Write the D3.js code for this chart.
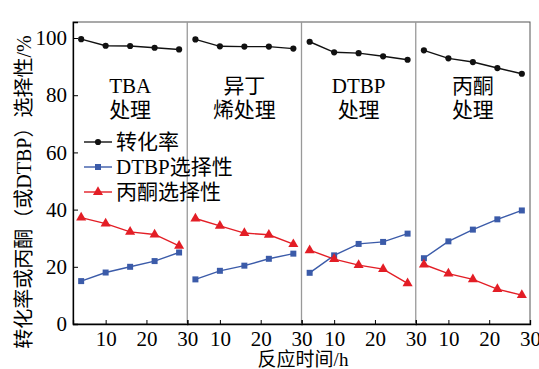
<!DOCTYPE html>
<html>
<head>
<meta charset="utf-8">
<script src="https://cdn.jsdelivr.net/npm/d3@7"></script>
<style>
  body { margin: 0; background: #fff; }
  svg { display: block; font-family: "Liberation Serif", "Noto Sans CJK SC", serif; }
</style>
</head>
<body>
<div id="chart"></div>
<script>
const panels = ['TBA|处理', '异丁|烯处理', 'DTBP|处理', '丙酮|处理']
const times = [4, 10, 16, 22, 28]
const conversion = [
  [99.6, 97.3, 97.2, 96.6, 96.0],
  [99.5, 97.1, 97.0, 97.0, 96.3],
  [98.7, 95.0, 94.7, 93.6, 92.4],
  [95.7, 92.9, 91.6, 89.5, 87.5],
]
const dtbpSel = [
  [15.0, 18.0, 20.0, 22.0, 25.0],
  [15.6, 18.6, 20.4, 22.8, 24.6],
  [17.9, 24.0, 28.0, 28.7, 31.6],
  [23.0, 28.9, 33.0, 36.6, 39.7],
]
const acetoneSel = [
  [37.2, 35.1, 32.2, 31.3, 27.3],
  [36.9, 34.3, 31.8, 31.2, 27.9],
  [25.8, 22.7, 20.6, 19.2, 14.2],
  [20.8, 17.6, 15.6, 12.2, 10.1],
]
const yTicks = [0, 20, 40, 60, 80, 100]
const xTicks = [10, 20, 30]
const seriesNames = ['转化率', 'DTBP选择性', '丙酮选择性']

const W = 539, H = 369
const plot = { left: 73, right: 530, top: 22, bottom: 324 }
const colors = ['#111', '#3b5ba9', '#e31e26']

const svg = d3.select('#chart').append('svg').attr('width', W).attr('height', H)

const y = d3.scaleLinear().domain([0, 105.6]).range([plot.bottom, plot.top])
const panelScale = d3.scaleBand().domain(d3.range(panels.length))
  .range([plot.left, plot.right]).paddingInner(0).paddingOuter(0)

// frame
svg.append('rect')
  .attr('x', plot.left).attr('y', plot.top)
  .attr('width', plot.right - plot.left).attr('height', plot.bottom - plot.top)
  .attr('fill', 'none').attr('stroke', '#555').attr('stroke-width', 1)

// y axis
const yAxis = d3.axisLeft(y).tickValues(yTicks).tickSize(-5).tickPadding(6)
const gy = svg.append('g').attr('transform', `translate(${plot.left},0)`).call(yAxis)
gy.select('.domain').attr('stroke', '#000').attr('stroke-width', 1.3)
gy.selectAll('.tick line').attr('stroke', '#000')
gy.selectAll('.tick text').attr('font-size', 21).attr('fill', '#000')
  .attr('font-family', '"Liberation Serif", serif')

const symbols = [d3.symbolCircle, d3.symbolSquare, d3.symbolTriangle]
const symSizes = [30, 36, 44]

panels.forEach((label, i) => {
  const x0 = panelScale(i), x1 = x0 + panelScale.bandwidth()
  const x = d3.scaleLinear().domain([2, 30]).range([x0, x1])

  // divider
  if (i > 0) {
    svg.append('line').attr('x1', x0).attr('x2', x0)
      .attr('y1', plot.top).attr('y2', plot.bottom)
      .attr('stroke', '#999').attr('stroke-width', 1.3)
  }

  const xAxis = d3.axisBottom(x).tickValues(xTicks).tickSize(-4).tickPadding(7)
    .tickFormat(d3.format('d'))
  const gx = svg.append('g').attr('transform', `translate(0,${plot.bottom})`).call(xAxis)
  gx.select('.domain').attr('stroke', '#000').attr('stroke-width', 1.3)
  gx.selectAll('.tick line').attr('stroke', '#000')
  gx.selectAll('.tick').filter(d => d === 30).select('line').remove()
  gx.selectAll('.tick text').attr('font-size', 21).attr('fill', '#000')
    .attr('font-family', '"Liberation Serif", serif')

  const sets = [conversion[i], dtbpSel[i], acetoneSel[i]]
  sets.forEach((vals, s) => {
    const pts = times.map((t, k) => [t, vals[k]])
    svg.append('path').datum(pts)
      .attr('d', d3.line().x(d => x(d[0])).y(d => y(d[1])))
      .attr('fill', 'none').attr('stroke', colors[s]).attr('stroke-width', 1.4)
    svg.selectAll(null).data(pts).enter().append('path')
      .attr('transform', d => `translate(${x(d[0])},${y(d[1])})`)
      .attr('d', d3.symbol().type(symbols[s]).size(symSizes[s]))
      .attr('fill', colors[s])
  })

  // panel label
  const cx = (x0 + x1) / 2
  const lines = label.split('|')
  const t = svg.append('text').attr('text-anchor', 'middle').attr('font-size', 21)
    .attr('fill', '#000')
  lines.forEach((ln, k) => {
    t.append('tspan').attr('x', cx).attr('y', 93 + k * 24).text(ln)
  })
})

// legend
const legend = svg.append('g')
seriesNames.forEach((name, s) => {
  const ly = 142 + s * 25
  legend.append('line').attr('x1', 84).attr('x2', 112).attr('y1', ly).attr('y2', ly)
    .attr('stroke', colors[s]).attr('stroke-width', 1.4)
  legend.append('path').attr('transform', `translate(98,${ly})`)
    .attr('d', d3.symbol().type(symbols[s]).size(symSizes[s])).attr('fill', colors[s])
  legend.append('text').attr('x', 116).attr('y', ly + 7).attr('font-size', 21)
    .attr('fill', '#000').text(name)
})

// axis titles
svg.append('text')
  .attr('transform', `translate(31,${(plot.top + 350) / 2 + 6}) rotate(-90)`)
  .attr('text-anchor', 'middle').attr('font-size', 20).attr('fill', '#000')
  .text('转化率或丙酮（或DTBP）选择性/%')

svg.append('text').attr('x', 303).attr('y', 366).attr('text-anchor', 'middle')
  .attr('font-size', 19).attr('fill', '#000').text('反应时间/h')
</script>
</body>
</html>
